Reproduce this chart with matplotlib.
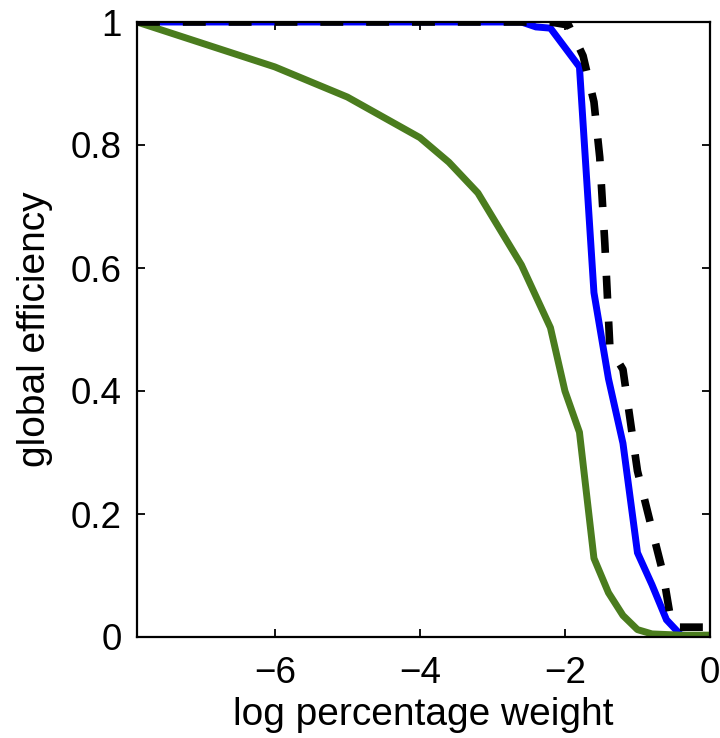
import matplotlib
matplotlib.use("Agg")
import matplotlib.pyplot as plt

# data
x_blue = [-7.9, -2.6, -2.4, -2.2, -1.8, -1.6, -1.4, -1.2, -1.0, -0.8, -0.6, -0.4, 0.0]
y_blue = [1.0, 1.0, 0.992, 0.99, 0.927, 0.56, 0.42, 0.315, 0.137, 0.085, 0.028, 0.003, 0.0]

x_green = [-7.9, -6.0, -5.0, -4.0, -3.6, -3.2, -2.6, -2.2, -2.0, -1.8, -1.6, -1.4, -1.2, -1.0, -0.8, -0.4, 0.0]
y_green = [1.0, 0.927, 0.878, 0.812, 0.772, 0.722, 0.605, 0.503, 0.40, 0.333, 0.128, 0.072, 0.035, 0.012, 0.005, 0.003, 0.003]

x_black = [-7.9, -2.2, -1.95, -1.75, -1.6, -1.52, -1.45, -1.38, -1.2, -1.0, -0.8, -0.65, -0.55, -0.5, 0.0]
y_black = [1.0, 1.0, 0.995, 0.945, 0.87, 0.78, 0.64, 0.47, 0.435, 0.27, 0.175, 0.105, 0.035, 0.016, 0.016]

xticks = [-6, -4, -2, 0]
yticks = [0, 0.2, 0.4, 0.6, 0.8, 1]
yticklabels = ["0", "0.2", "0.4", "0.6", "0.8", "1"]

font = ["Liberation Sans", "DejaVu Sans"]

fig = plt.figure(figsize=(7.2, 7.38), dpi=100)
ax = fig.add_axes([137 / 720, 1 - 637 / 738, 573 / 720, 615 / 738])

ax.plot(x_blue, y_blue, color="#0000ff", lw=5, solid_joinstyle="miter")
ax.plot(x_green, y_green, color="#4a7c1e", lw=5)
ax.plot(x_black, y_black, color="black", lw=5.5, dashes=(3.0, 3.0))

ax.set_xlim(-7.9, 0)
ax.set_ylim(0, 1)
ax.set_xticks(xticks)
ax.set_xticklabels([("\u2212%d" % -t) if t < 0 else "%d" % t for t in xticks],
                   family=font, fontsize=26.5)
ax.set_yticks(yticks)
ax.set_yticklabels(yticklabels, family=font, fontsize=26.5)
ax.tick_params(direction="in", length=6, width=1.3, top=True, right=True)
ax.tick_params(axis="x", pad=14)
ax.tick_params(axis="y", pad=11)
for s in ax.spines.values():
    s.set_linewidth(1.6)

ax.set_xlabel("log percentage weight", family=font, fontsize=28)
ax.set_ylabel("global efficiency", family=font, fontsize=28)
ax.xaxis.set_label_coords(0.5, -0.098)
ax.yaxis.set_label_coords(-0.147, 0.5)

fig.savefig("out.png", dpi=100)
